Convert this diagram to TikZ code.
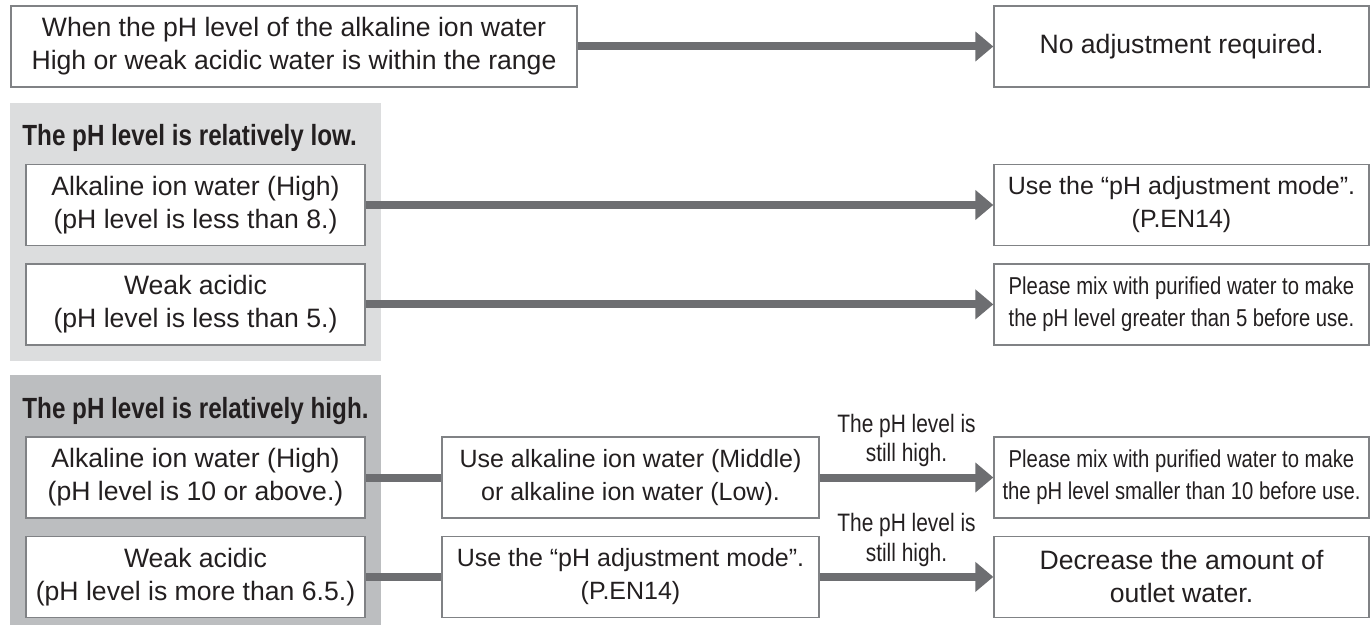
\documentclass[tikz,border=0pt]{standalone}
\usepackage{fontspec}
\setmainfont{Liberation Sans}
\newfontfamily\narrowfont[FakeStretch=0.83]{Liberation Sans}
\usetikzlibrary{arrows.meta,positioning}
\definecolor{panellow}{HTML}{DCDDDE}
\definecolor{panelhigh}{HTML}{BCBEC0}
\definecolor{flowgray}{HTML}{6D6E71}
\definecolor{edgegray}{HTML}{808285}
\definecolor{ink}{HTML}{231F20}
\tikzstyle{entry} = [draw=edgegray,line width=0.7pt,fill=white,rectangle,align=center,inner sep=0,minimum height=40.5pt,text=ink,font=\fontsize{13.3}{16.5}\selectfont]
\tikzstyle{tight} = [entry,font=\fontsize{12.5}{16.5}\selectfont]
\tikzstyle{narrow} = [entry,font=\narrowfont\fontsize{12.2}{16}\selectfont]
\tikzstyle{heading} = [anchor=base west,inner sep=0,text=ink,font=\narrowfont\bfseries\fontsize{14.6}{18}\selectfont]
\tikzstyle{flow} = [draw=flowgray,line width=4pt,-{Triangle[length=9pt,width=14.5pt]}]
\tikzstyle{link} = [draw=flowgray,line width=4pt]
\tikzstyle{note} = [inner sep=0,align=center,text=ink,font=\narrowfont\fontsize{12.6}{14.8}\selectfont]
\def \lw {169.5pt}
\def \rw {187.5pt}
\def \gap {8.5pt}

\begin{document}
\begin{tikzpicture}[x=0.5pt,y=-0.5pt]
  \useasboundingbox (0,0) rectangle (1370,625);
  % panels
  \fill[panellow] (10,103) rectangle (381,361);
  \fill[panelhigh] (10,375) rectangle (381,625);
  \node[heading] (hlow) at (22,146) {The pH level is relatively low.};
  \node[heading] (hhigh) at (22,419) {The pH level is relatively high.};
  % top row
  \node[entry,minimum width=283pt] (top) at (294,46.5) {When the pH level of the alkaline ion water\\High or weak acidic water is within the range};
  \node[entry,minimum width=\rw] (noadj) at (1181.5,46.5) {No adjustment required.};
  \draw[flow] (top) -- (noadj);
  % low rows
  \node[entry,minimum width=\lw] (lowalk) at (195.5,205) {Alkaline ion water (High)\\(pH level is less than 8.)};
  \node[entry,minimum width=\lw,below=\gap of lowalk] (lowweak) {Weak acidic\\(pH level is less than 5.)};
  \node[tight,minimum width=\rw] (lowmode) at (1181.5,205) {Use the ``pH adjustment mode''.\\(P.EN14)};
  \node[narrow,minimum width=\rw,below=\gap of lowmode] (lowmix) {Please mix with purified water to make\\the pH level greater than 5 before use.};
  \draw[flow] (lowalk) -- (lowmode);
  \draw[flow] (lowweak) -- (lowmix);
  % high rows
  \node[entry,minimum width=\lw] (highalk) at (195.5,477.5) {Alkaline ion water (High)\\(pH level is 10 or above.)};
  \node[entry,minimum width=\lw,below=\gap of highalk] (highweak) {Weak acidic\\(pH level is more than 6.5.)};
  \node[tight,minimum width=188.5pt] (highmid) at (630.5,477.5) {Use alkaline ion water (Middle)\\or alkaline ion water (Low).};
  \node[tight,minimum width=188.5pt,below=\gap of highmid] (highmode) {Use the ``pH adjustment mode''.\\(P.EN14)};
  \node[narrow,minimum width=\rw] (highmix) at (1181.5,477.5) {Please mix with purified water to make\\the pH level smaller than 10 before use.};
  \node[entry,minimum width=\rw,below=\gap of highmix] (highless) {Decrease the amount of\\outlet water.};
  \draw[link] (highalk) -- (highmid);
  \draw[link] (highweak) -- (highmode);
  \draw[flow] (highmid) -- node[note,midway,yshift=18.5pt] {The pH level is\\still high.} (highmix);
  \draw[flow] (highmode) -- node[note,midway,yshift=18.5pt] {The pH level is\\still high.} (highless);
\end{tikzpicture}
\end{document}
